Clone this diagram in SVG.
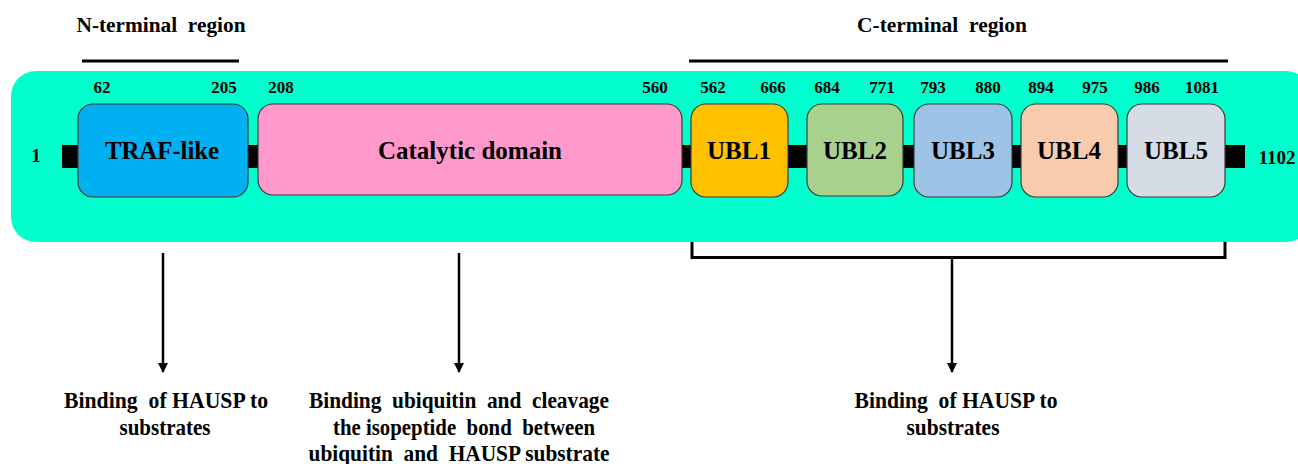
<svg xmlns="http://www.w3.org/2000/svg" width="1298" height="464" viewBox="0 0 1298 464">
  <style>
    text { font-family: "Liberation Serif", "Times New Roman", serif; font-weight: bold; fill: #000; white-space: pre; }
    .num { font-size: 17px; text-anchor: middle; }
    .end { font-size: 19px; text-anchor: middle; }
    .dom { font-size: 25px; text-anchor: middle; }
    .head { font-size: 22px; text-anchor: middle; }
    .lbl { font-size: 23px; text-anchor: middle; }
    .box { stroke: #3a3a3a; stroke-width: 1.2; }
    .rule { stroke: #000; stroke-width: 3; fill: none; }
    .arrow { stroke: #000; stroke-width: 2.5; fill: none; marker-end: url(#head); }
  </style>
  <defs>
    <marker id="head" viewBox="0 0 10 10" refX="9" refY="5" markerWidth="4" markerHeight="4.4" markerUnits="strokeWidth" orient="auto">
      <path d="M0,0 L10,5 L0,10 z" fill="#000"/>
    </marker>
  </defs>

  <!-- region headers -->
  <g id="n-terminal">
    <text class="head" x="161" y="32" textLength="169" lengthAdjust="spacingAndGlyphs">N-terminal  region</text>
    <line class="rule" x1="82" y1="61" x2="239" y2="61"/>
  </g>
  <g id="c-terminal">
    <text class="head" x="942" y="32" textLength="170" lengthAdjust="spacingAndGlyphs">C-terminal  region</text>
    <line class="rule" x1="689" y1="61" x2="1228" y2="61"/>
  </g>

  <!-- protein backdrop and backbone -->
  <g id="protein">
    <rect x="11" y="71" width="1300" height="171" rx="25" fill="#00FFCC"/>
    <rect x="62" y="145" width="1183" height="23" fill="#000"/>
    <text class="end" x="36" y="162">1</text>
    <text class="end" x="1277" y="164">1102</text>
  </g>

  <!-- domains -->
  <g id="traf">
    <rect class="box" x="78" y="104" width="170" height="93" rx="15" fill="#00B0F0"/>
    <text class="dom" x="162" y="159" textLength="114" lengthAdjust="spacingAndGlyphs">TRAF-like</text>
    <text class="num" x="102" y="93">62</text>
    <text class="num" x="224" y="93">205</text>
  </g>
  <g id="catalytic">
    <rect class="box" x="258" y="104" width="424" height="91" rx="15" fill="#FF99CC"/>
    <text class="dom" x="470" y="159" textLength="184" lengthAdjust="spacingAndGlyphs">Catalytic domain</text>
    <text class="num" x="281" y="93">208</text>
    <text class="num" x="655" y="93">560</text>
  </g>
  <g id="ubl1">
    <rect class="box" x="691" y="104" width="97" height="93" rx="15" fill="#FFC000"/>
    <text class="dom" x="739" y="159">UBL1</text>
    <text class="num" x="713" y="93">562</text>
    <text class="num" x="773" y="93">666</text>
  </g>
  <g id="ubl2">
    <rect class="box" x="807" y="104" width="96" height="92" rx="15" fill="#A9D18E"/>
    <text class="dom" x="855" y="159">UBL2</text>
    <text class="num" x="827" y="93">684</text>
    <text class="num" x="882" y="93">771</text>
  </g>
  <g id="ubl3">
    <rect class="box" x="914" y="104" width="98" height="93" rx="15" fill="#9DC3E6"/>
    <text class="dom" x="963" y="159">UBL3</text>
    <text class="num" x="933" y="93">793</text>
    <text class="num" x="988" y="93">880</text>
  </g>
  <g id="ubl4">
    <rect class="box" x="1021" y="104" width="97" height="93" rx="15" fill="#F8CBAD"/>
    <text class="dom" x="1069" y="159">UBL4</text>
    <text class="num" x="1041" y="93">894</text>
    <text class="num" x="1095" y="93">975</text>
  </g>
  <g id="ubl5">
    <rect class="box" x="1127" y="104" width="98" height="93" rx="15" fill="#D6DCE5"/>
    <text class="dom" x="1176" y="159">UBL5</text>
    <text class="num" x="1147" y="93">986</text>
    <text class="num" x="1202" y="93">1081</text>
  </g>

  <!-- connectors -->
  <g id="connectors">
    <path class="rule" d="M692,242 V257.5 H1225 V242"/>
    <line class="arrow" x1="163" y1="253" x2="163" y2="372"/>
    <line class="arrow" x1="459" y1="253" x2="459" y2="372"/>
    <line class="arrow" x1="952" y1="257.5" x2="952" y2="372"/>
  </g>

  <!-- function labels -->
  <g id="label-traf">
    <text class="lbl" x="166" y="408" textLength="204" lengthAdjust="spacingAndGlyphs">Binding  of HAUSP to</text>
    <text class="lbl" x="165" y="435" textLength="91" lengthAdjust="spacingAndGlyphs">substrates</text>
  </g>
  <g id="label-catalytic">
    <text class="lbl" x="459" y="408" textLength="300" lengthAdjust="spacingAndGlyphs">Binding  ubiquitin  and  cleavage</text>
    <text class="lbl" x="464" y="435" textLength="262" lengthAdjust="spacingAndGlyphs">the isopeptide  bond  between</text>
    <text class="lbl" x="459" y="461" textLength="301" lengthAdjust="spacingAndGlyphs">ubiquitin  and  HAUSP substrate</text>
  </g>
  <g id="label-ubl">
    <text class="lbl" x="956" y="408" textLength="203" lengthAdjust="spacingAndGlyphs">Binding  of HAUSP to</text>
    <text class="lbl" x="953" y="435" textLength="93" lengthAdjust="spacingAndGlyphs">substrates</text>
  </g>
</svg>
